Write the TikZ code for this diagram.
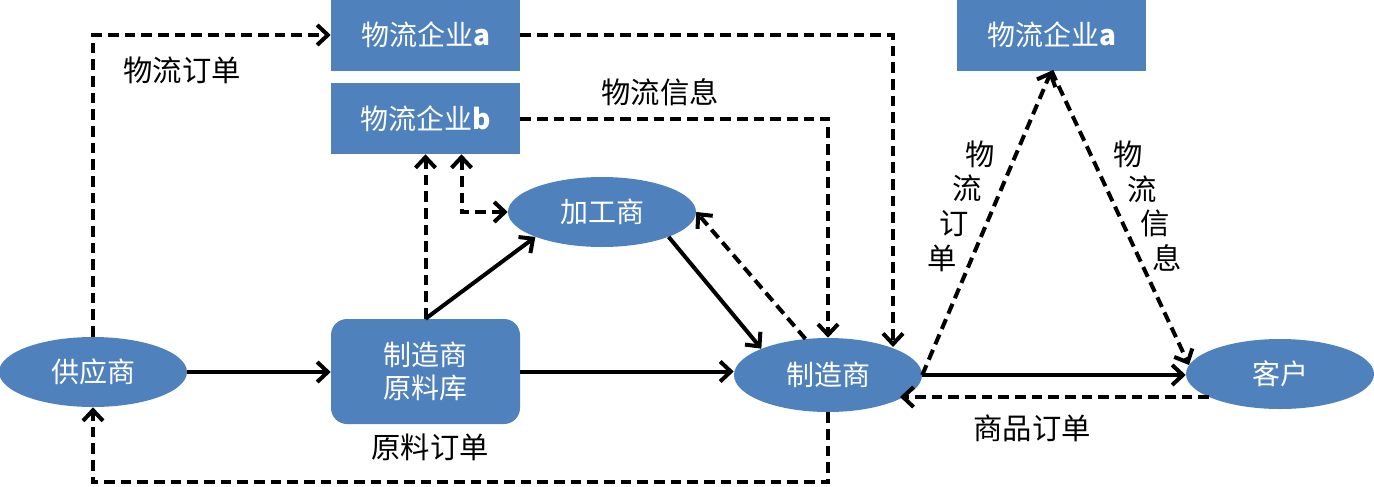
\documentclass[tikz,border=0pt]{standalone}
\usepackage{fontspec}
\setmainfont{Noto Sans CJK SC}
\usetikzlibrary{shapes.geometric,arrows.meta,calc}
\definecolor{boxblue}{HTML}{4F81BD}
\tikzset{
  blk/.style={fill=boxblue, draw=none, text=white, font=\fontsize{21}{25}\selectfont, inner sep=0pt},
  rbox/.style={blk, rectangle, minimum width=141.75pt, minimum height=53.25pt},
  ell/.style={blk, ellipse, minimum width=141pt, minimum height=52.5pt},
  tip/.tip={Straight Barb[length=8pt,width=15pt,line width=3pt]},
  conn/.style={line width=3pt, -tip},
  dconn/.style={conn, dash pattern=on 8pt off 4.5pt},
  lbl/.style={font=\fontsize{22}{26}\selectfont, inner sep=0pt, text=black}
}
\begin{document}
\begin{tikzpicture}[x=0.75pt,y=-0.75pt]
\useasboundingbox (0,0) rectangle (1374,486);
% nodes
\node[rbox] (la) at (425.5,35) {物流企业\textbf{a}};
\node[rbox] (lb) at (425.5,118.5) {物流企业\textbf{b}};
\node[rbox] (la2) at (1051.5,35) {物流企业\textbf{a}};
\node[rbox, rounded corners=12pt, minimum height=78.75pt, align=center] (stock) at (425.5,371.5) {制造商\\原料库};
\node[ell] (sup) at (93,372) {供应商};
\node[ell] (proc) at (602,212) {加工商};
\node[ell, minimum height=55.5pt] (mfr) at (828,375) {制造商};
\node[ell] (cust) at (1280,374) {客户};
% labels
\node[lbl] (l1) at (182,70) {物流订单};
\node[lbl] (l2) at (660,92) {物流信息};
\node[lbl] (l3) at (430,447) {原料订单};
\node[lbl] (l4) at (1032,428) {商品订单};
\node[lbl, align=left] (l5) at (961,206) {\hspace*{28.5pt}物\\\hspace*{19pt}流\\\hspace*{9pt}订\\单};
\node[lbl, align=left] (l6) at (1147.5,206) {物\\\hspace*{10.5pt}流\\\hspace*{20pt}信\\\hspace*{29pt}息};
% helper coordinates
\coordinate (m2) at ($(mfr.center)+(65,-28)$);
\coordinate (m3) at ($(mfr.center)+(72,22)$);
\coordinate (c1) at ($(cust.center)+(-71,23)$);
\coordinate (c2) at ($(cust.center)+(-91,-9)$);
\coordinate (lbx) at ($(lb.south)+(36,0)$);
% solid connectors
\draw[conn] (sup.east) -- (sup.east -| stock.west);
\draw[conn] (stock.east) -- (stock.east -| mfr.west);
\draw[conn] (stock.north) -- (proc.south west);
\draw[conn] (proc.south east) -- (mfr.north west);
\draw[conn] (mfr.east) -- (mfr.east -| cust.west);
% dashed connectors
\draw[dconn] (mfr.122) -- (proc.east);
\draw[dconn] (stock.north) -- (stock.north |- lb.south);
\draw[dconn, tip-tip] (lbx) |- (proc.west);
\draw[dconn] (lb.east) -| (mfr.north);
\draw[dconn] (la.east) -| (m2);
\draw[dconn] (sup.north) |- (la.west);
\draw[dconn] (mfr.south) |- ($(sup.south)+(0,75)$) -- (sup.south);
\draw[dconn] (c1) -- (m3);
\draw[dconn] (mfr.east) -- (la2.south);
\draw[dconn] (la2.south) -- (c2);
\end{tikzpicture}
\end{document}
